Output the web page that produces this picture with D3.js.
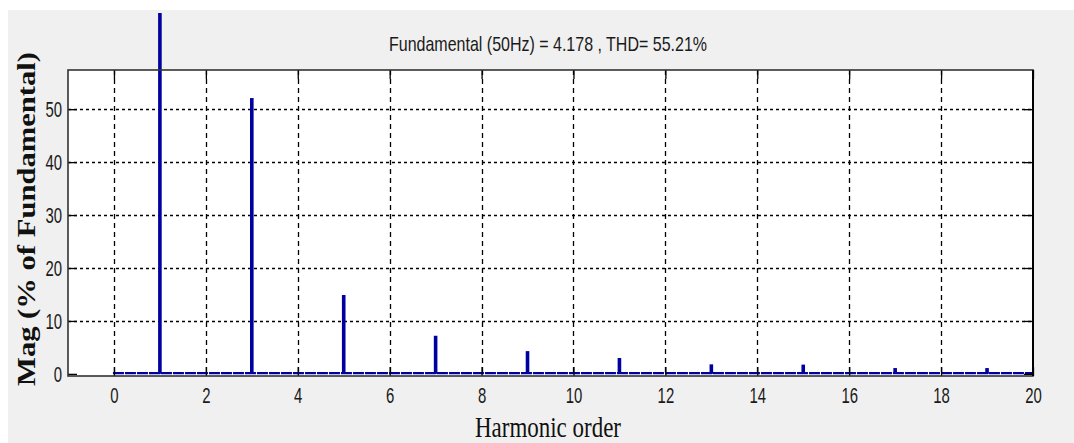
<!DOCTYPE html>
<html>
<head>
<meta charset="utf-8">
<script src="https://cdn.jsdelivr.net/npm/d3@7"></script>
<style>
  html, body { margin: 0; padding: 0; background: #fff; }
  svg { display: block; }
</style>
</head>
<body>
<div id="chart"></div>
<script>
// harmonic spectrum, % of fundamental
const harmonics = [1, 3, 5, 7, 9, 11, 13, 15, 17, 19];
const magnitudes = [100, 52.1, 14.9, 7.2, 4.3, 3.0, 1.8, 1.75, 1.1, 1.1];
const floorLevel = 0.3;          // small interharmonic content along the base
const floorRange = [0, 20];
const xTicks = [0, 2, 4, 6, 8, 10, 12, 14, 16, 18, 20];
const yTicks = [0, 10, 20, 30, 40, 50];
const titleText = "Fundamental (50Hz) = 4.178 , THD= 55.21%";

const W = 1074, H = 443;
const box = {left: 68, right: 1033, top: 70, bottom: 376};
const barColor = "#0000a0";

const svg = d3.select("#chart").append("svg")
  .attr("width", W).attr("height", H);

// figure background
svg.append("rect").attr("x", 8).attr("y", 10).attr("width", W - 8).attr("height", H - 10)
  .attr("fill", "#f0f0f0");

svg.append("rect")
  .attr("x", box.left).attr("y", box.top)
  .attr("width", box.right - box.left).attr("height", box.bottom - box.top)
  .attr("fill", "#fff");

const x = d3.scaleLinear().domain([-1, 20]).range([box.left, box.right]);
const y = d3.scaleLinear().domain([-0.4, 57.4]).range([box.bottom, box.top]);

// grid
const grid = svg.append("g").attr("stroke", "#000").attr("stroke-width", 1.3).attr("fill", "none");
grid.selectAll("line.v").data(xTicks.filter(d => d < 20)).join("line")
  .attr("class", "v")
  .attr("x1", d => Math.round(x(d)) + 0.5).attr("x2", d => Math.round(x(d)) + 0.5)
  .attr("y1", box.top).attr("y2", box.bottom)
  .attr("stroke-dasharray", "5,4");
grid.selectAll("line.h").data(yTicks.filter(d => d > 0)).join("line")
  .attr("class", "h")
  .attr("x1", box.left).attr("x2", box.right)
  .attr("y1", d => Math.round(y(d)) + 0.5).attr("y2", d => Math.round(y(d)) + 0.5)
  .attr("stroke-dasharray", "3,3");

// clip so the fundamental runs past the axes up to the figure edge
svg.append("clipPath").attr("id", "barclip").append("rect")
  .attr("x", box.left).attr("y", 13)
  .attr("width", box.right - box.left).attr("height", box.bottom - 13);

const marks = svg.append("g").attr("clip-path", "url(#barclip)");

marks.append("line")
  .attr("x1", x(floorRange[0]) - 1).attr("x2", x(floorRange[1]))
  .attr("y1", y(floorLevel / 2)).attr("y2", y(floorLevel / 2))
  .attr("stroke", barColor).attr("stroke-width", 2.4)
  .attr("stroke-dasharray", "11,1");

marks.selectAll("rect.bar").data(harmonics).join("rect")
  .attr("class", "bar")
  .attr("x", d => x(d) - 1.8)
  .attr("width", 3.6)
  .attr("y", (d, i) => y(magnitudes[i]))
  .attr("height", (d, i) => y(0) - y(magnitudes[i]))
  .attr("fill", barColor);

// axes
const axisColor = "#333";
const fmt = d3.format("d");

const gx = svg.append("g").attr("transform", `translate(0,${box.bottom})`)
  .call(d3.axisBottom(x).tickValues(xTicks).tickSize(-9).tickPadding(11).tickFormat(fmt));
const gTop = svg.append("g").attr("transform", `translate(0,${box.top})`)
  .call(d3.axisTop(x).tickValues(xTicks).tickSize(-9).tickFormat(""));
const gy = svg.append("g").attr("transform", `translate(${box.left},0)`)
  .call(d3.axisLeft(y).tickValues(yTicks).tickSize(-9).tickPadding(6).tickFormat(fmt));
const gRight = svg.append("g").attr("transform", `translate(${box.right},0)`)
  .call(d3.axisRight(y).tickValues(yTicks).tickSize(-9).tickFormat(""));

[gx, gTop, gy, gRight].forEach(g => {
  g.select(".domain").remove();
  g.selectAll(".tick line").attr("stroke", "#000").attr("stroke-width", 1.3);
  g.selectAll("text")
    .attr("fill", "#1a1a1a")
    .attr("font-family", "Liberation Sans, Arial, sans-serif")
    .attr("font-size", 22)
    .attr("lengthAdjust", "spacingAndGlyphs")
    .attr("textLength", function() { return this.textContent.length * 8.3; });
});

gx.selectAll("text").attr("dy", "0.71em");
gy.selectAll("text").attr("dy", "0.35em");

// axes box
svg.append("rect")
  .attr("x", box.left).attr("y", box.top)
  .attr("width", box.right - box.left).attr("height", box.bottom - box.top)
  .attr("fill", "none").attr("stroke", axisColor).attr("stroke-width", 1.6);
svg.append("line")
  .attr("x1", box.right).attr("x2", box.right).attr("y1", box.top).attr("y2", box.bottom)
  .attr("stroke", "#000").attr("stroke-width", 2);

// title and labels
svg.append("text")
  .attr("x", 548).attr("y", 51)
  .attr("text-anchor", "middle")
  .attr("font-family", "Liberation Sans, Arial, sans-serif")
  .attr("font-size", 21)
  .attr("fill", "#1a1a1a")
  .attr("textLength", 318).attr("lengthAdjust", "spacingAndGlyphs")
  .text(titleText);

svg.append("text")
  .attr("x", 548).attr("y", 437)
  .attr("text-anchor", "middle")
  .attr("font-family", "Liberation Serif, Times New Roman, serif")
  .attr("font-size", 29)
  .attr("fill", "#111")
  .attr("textLength", 146).attr("lengthAdjust", "spacingAndGlyphs")
  .text("Harmonic order");

svg.append("text")
  .attr("transform", "translate(35,219) rotate(-90)")
  .attr("text-anchor", "middle")
  .attr("font-family", "Liberation Serif, Times New Roman, serif")
  .attr("font-weight", "bold")
  .attr("font-size", 25)
  .attr("fill", "#111")
  .attr("textLength", 334).attr("lengthAdjust", "spacingAndGlyphs")
  .text("Mag (% of Fundamental)");
</script>
</body>
</html>
